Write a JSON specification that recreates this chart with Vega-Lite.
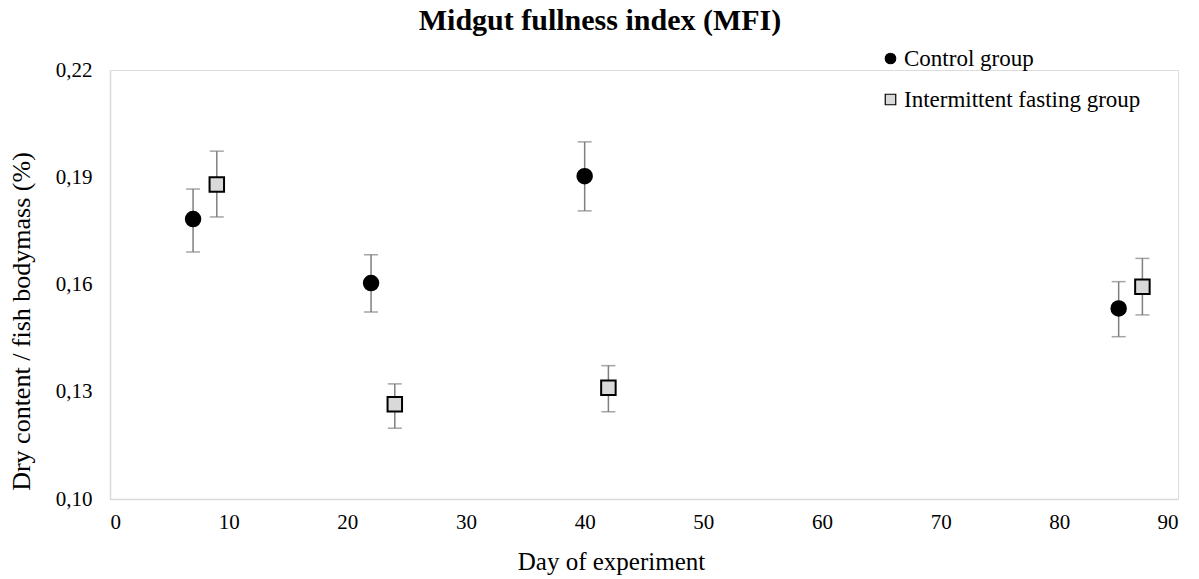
{
  "$schema": "https://vega.github.io/schema/vega-lite/v6.json",
  "autosize": {"type": "none"},
  "width": 1068,
  "height": 429,
  "padding": {"left": 110, "top": 70, "right": 21, "bottom": 80},
  "background": "white",
  "title": {
    "text": "Midgut fullness index (MFI)",
    "font": "Liberation Serif",
    "fontSize": 30,
    "fontWeight": "bold",
    "color": "black",
    "anchor": "middle",
    "dx": -44,
    "offset": 11
  },
  "data": {
    "values": [
      {"day": 7, "mfi": 0.1783, "low": 0.1691, "high": 0.1867, "group": "Control group"},
      {"day": 22, "mfi": 0.1604, "low": 0.1523, "high": 0.1683, "group": "Control group"},
      {"day": 40, "mfi": 0.1903, "low": 0.1806, "high": 0.1999, "group": "Control group"},
      {"day": 85, "mfi": 0.1533, "low": 0.1454, "high": 0.1608, "group": "Control group"},
      {"day": 9, "mfi": 0.1880, "low": 0.1789, "high": 0.1973, "group": "Intermittent fasting group"},
      {"day": 24, "mfi": 0.1265, "low": 0.1198, "high": 0.1322, "group": "Intermittent fasting group"},
      {"day": 42, "mfi": 0.1311, "low": 0.1244, "high": 0.1373, "group": "Intermittent fasting group"},
      {"day": 87, "mfi": 0.1594, "low": 0.1515, "high": 0.1673, "group": "Intermittent fasting group"}
    ]
  },
  "encoding": {
    "x": {
      "field": "day",
      "type": "quantitative",
      "scale": {"domain": [0, 90], "nice": false},
      "axis": {
        "title": "Day of experiment",
        "values": [0, 10, 20, 30, 40, 50, 60, 70, 80, 90],
        "grid": false,
        "ticks": false,
        "domainColor": "#d9d9d9",
        "domainWidth": 1.5,
        "labelFont": "Liberation Serif",
        "labelFontSize": 21,
        "labelColor": "black",
        "labelPadding": 12,
        "titleFont": "Liberation Serif",
        "titleFontSize": 25,
        "titleFontWeight": "normal",
        "titleColor": "black",
        "titlePadding": 17,
        "titleX": 501
      }
    }
  },
  "layer": [
    {
      "mark": {"type": "rule", "color": "#7f7f7f", "strokeWidth": 1.5},
      "encoding": {
        "y": {
          "field": "low",
          "type": "quantitative",
          "scale": {"domain": [0.1, 0.22], "nice": false, "zero": false},
          "axis": {
            "title": "Dry content / fish bodymass (%)",
            "values": [0.1, 0.13, 0.16, 0.19, 0.22],
            "labelExpr": "replace(format(datum.value, '.2f'), '.', ',')",
            "grid": false,
            "ticks": false,
            "domainColor": "#d9d9d9",
            "domainWidth": 1.5,
            "labelFont": "Liberation Serif",
            "labelFontSize": 21,
            "labelColor": "black",
            "labelPadding": 18,
            "titleFont": "Liberation Serif",
            "titleFontSize": 26,
            "titleFontWeight": "normal",
            "titleColor": "black",
            "titlePadding": 21,
            "titleY": 251
          }
        },
        "y2": {"field": "high"}
      }
    },
    {
      "mark": {"type": "tick", "orient": "horizontal", "color": "#7f7f7f", "size": 14, "thickness": 1.5},
      "encoding": {"y": {"field": "low", "type": "quantitative"}}
    },
    {
      "mark": {"type": "tick", "orient": "horizontal", "color": "#7f7f7f", "size": 14, "thickness": 1.5},
      "encoding": {"y": {"field": "high", "type": "quantitative"}}
    },
    {
      "mark": {"type": "point", "filled": true, "stroke": "black", "strokeWidth": 2, "size": 210, "opacity": 1},
      "encoding": {
        "y": {"field": "mfi", "type": "quantitative"},
        "shape": {
          "field": "group",
          "type": "nominal",
          "scale": {"domain": ["Control group", "Intermittent fasting group"], "range": ["circle", "square"]},
          "legend": {
            "title": null,
            "orient": "none",
            "legendX": 769,
            "legendY": -23,
            "symbolSize": 110,
            "symbolStrokeWidth": 1.2,
            "labelFont": "Liberation Serif",
            "labelFontSize": 23,
            "labelColor": "black",
            "labelOffset": 2,
            "labelLimit": 0,
            "rowPadding": 17,
            "symbolOpacity": 1,
            "encode": {
              "symbols": {"update": {"stroke": {"value": "black"}, "strokeWidth": {"value": 1.2}}}
            }
          }
        },
        "fill": {
          "field": "group",
          "type": "nominal",
          "scale": {"domain": ["Control group", "Intermittent fasting group"], "range": ["black", "#d9d9d9"]},
          "legend": null
        }
      }
    }
  ]
}
